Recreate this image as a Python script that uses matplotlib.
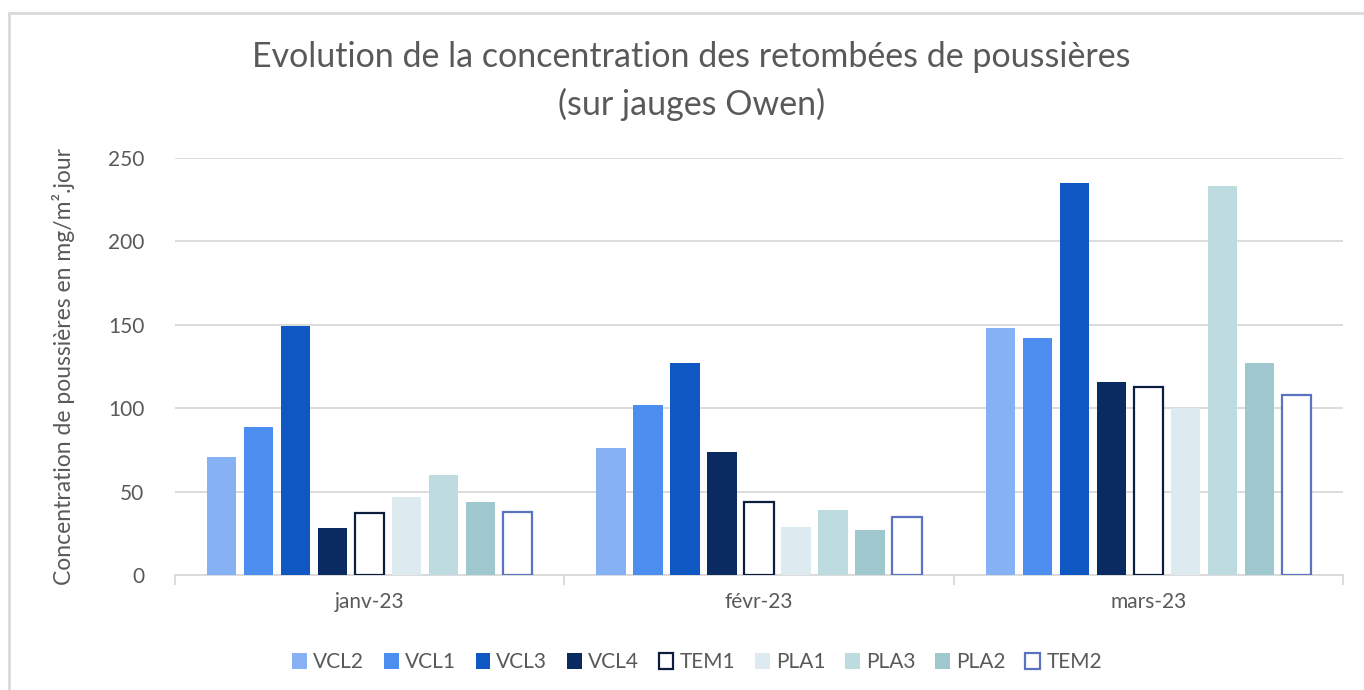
import matplotlib.pyplot as plt
import matplotlib.patches as mpatches
import numpy as np

plt.rcParams["font.family"] = ["Lato", "DejaVu Sans"]

months = ["janv-23", "févr-23", "mars-23"]
series = ["VCL2", "VCL1", "VCL3", "VCL4", "TEM1", "PLA1", "PLA3", "PLA2", "TEM2"]
values = {
    "VCL2": [71, 76, 148],
    "VCL1": [89, 102, 142],
    "VCL3": [149, 127, 235],
    "VCL4": [28, 74, 116],
    "TEM1": [37, 44, 113],
    "PLA1": [47, 29, 100],
    "PLA3": [60, 39, 233],
    "PLA2": [44, 27, 127],
    "TEM2": [38, 35, 108],
}
fills = {
    "VCL2": "#86B2F5", "VCL1": "#4C8EF0", "VCL3": "#0F58C4", "VCL4": "#0A2B61",
    "TEM1": "white", "PLA1": "#DDEBF0", "PLA3": "#BEDBDF", "PLA2": "#9EC7CE",
    "TEM2": "white",
}
edges = {"TEM1": "#0B1E3D", "TEM2": "#5B72BE"}

TEXT = "#595959"
GRID = "#D9D9D9"

fig = plt.figure(figsize=(13.64, 6.90), dpi=100)
fig.patch.set_facecolor("white")
fig.patches.append(mpatches.Rectangle((9 / 1364, -0.01), 1.0, 1 - 13 / 690 + 0.01,
                                      transform=fig.transFigure, fill=False,
                                      edgecolor=GRID, linewidth=2))

ax = fig.add_axes([175 / 1364, 1 - 575 / 690, (1343 - 175) / 1364, (575 - 158) / 690])

x = np.arange(len(months))
step = 0.095
width = 0.075
for i, s in enumerate(series):
    offset = (i - (len(series) - 1) / 2) * step
    if s in edges:
        ax.bar(x + offset, values[s], width, facecolor="white", edgecolor=edges[s],
               linewidth=1.6, label=s, zorder=3)
    else:
        ax.bar(x + offset, values[s], width, color=fills[s], label=s, zorder=3)

ax.set_xlim(-0.5, 2.5)
ax.set_ylim(0, 250)
ax.set_yticks(range(0, 251, 50))
ax.yaxis.grid(True, color=GRID, linewidth=1.3)
ax.set_axisbelow(True)
ax.set_xticks(x)
ax.set_xticklabels(months)
ax.set_xticks([-0.5, 0.5, 1.5, 2.5], minor=True)
ax.tick_params(axis="x", which="major", length=0, pad=12, labelsize=15, labelcolor=TEXT)
ax.tick_params(axis="x", which="minor", length=7, color=GRID, width=1.3)
ax.tick_params(axis="y", length=0, pad=22, labelsize=15, labelcolor=TEXT)
for side in ["top", "right", "left"]:
    ax.spines[side].set_visible(False)
ax.spines["bottom"].set_color(GRID)
ax.spines["bottom"].set_linewidth(1.3)

ax.set_ylabel("Concentration de poussières en mg/m².jour", fontsize=16.5, color=TEXT, labelpad=24)
fig.text(0.507, 1 - 81 / 690, "Evolution de la concentration des retombées de poussières\n(sur jauges Owen)",
         ha="center", va="center", fontsize=24.5, color=TEXT, linespacing=1.55)

leg = ax.legend(loc="upper center", bbox_to_anchor=(0.447, -0.14), ncol=9, frameon=False,
                fontsize=15, handlelength=0.7, handleheight=0.8, handletextpad=0.3,
                columnspacing=0.95, labelcolor=TEXT)

fig.savefig("out.png", dpi=100)
